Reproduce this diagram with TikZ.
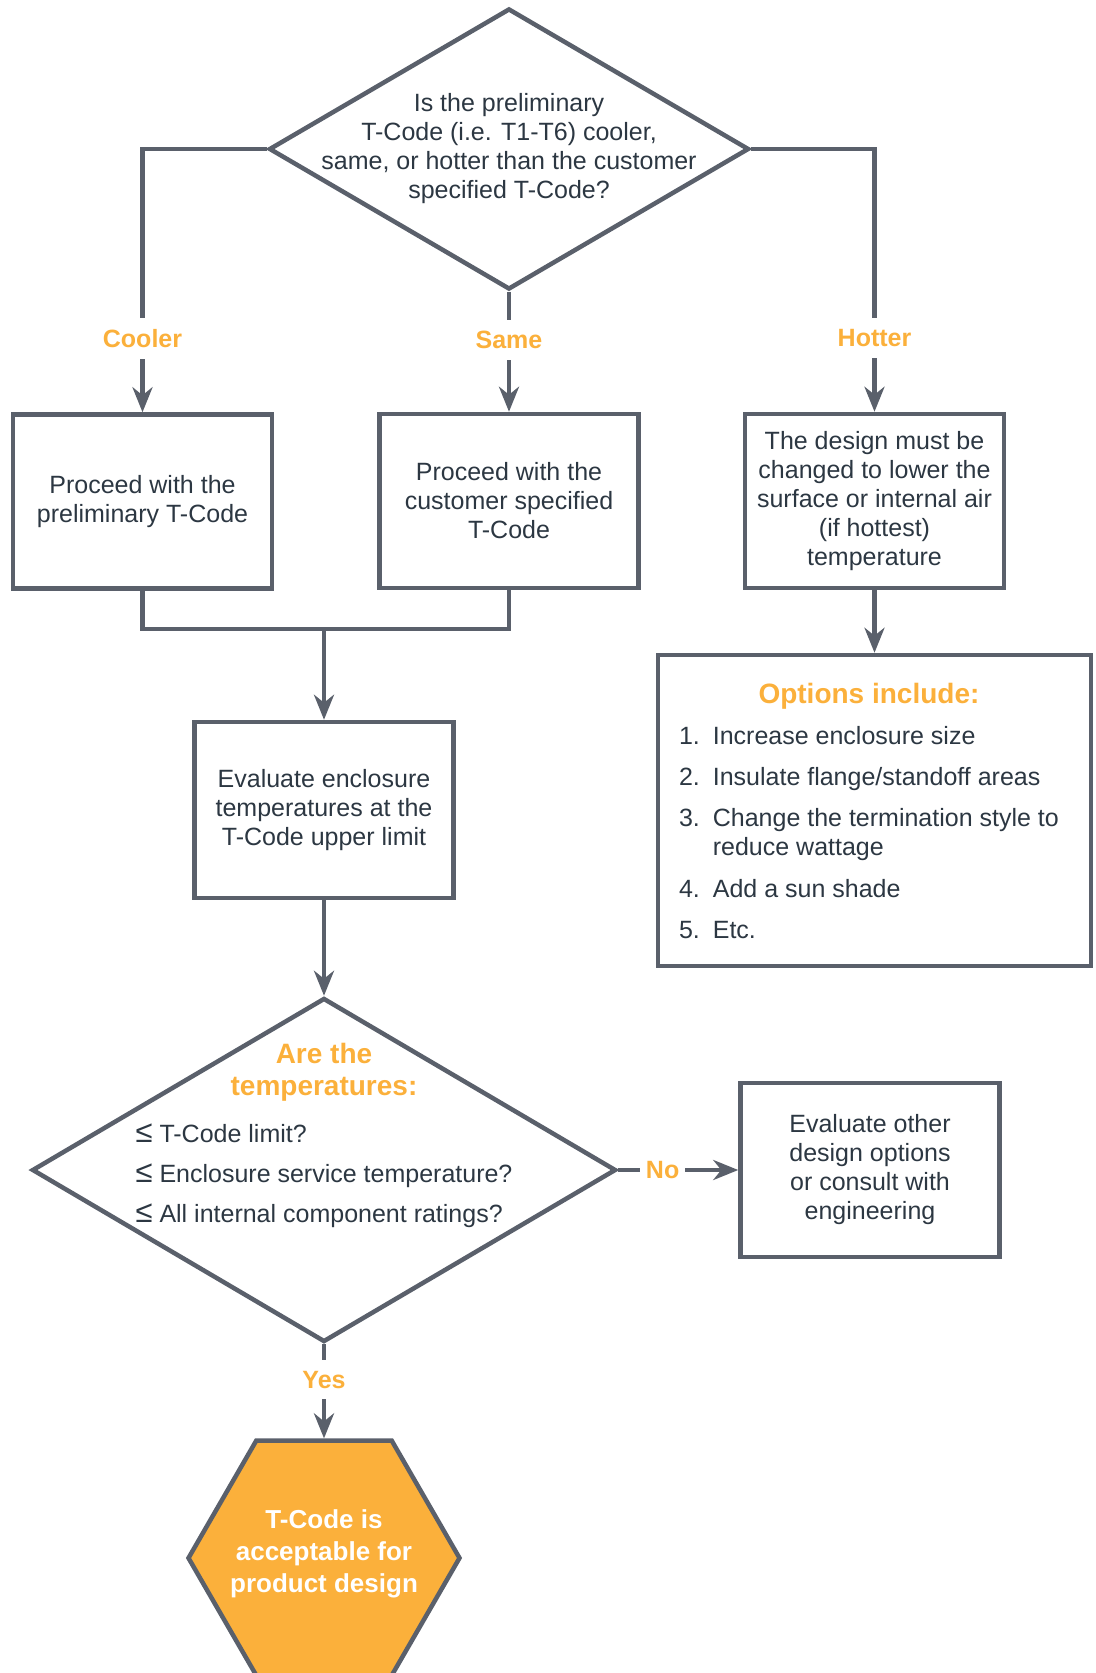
\documentclass[tikz,border=0pt]{standalone}
\usepackage{fontspec}
\setmainfont{Liberation Sans}
\usetikzlibrary{shapes.geometric,arrows.meta}
\definecolor{linegray}{RGB}{90,96,107}
\definecolor{ink}{RGB}{44,55,66}
\definecolor{tangerine}{RGB}{251,176,59}
\newcommand{\fnorm}{\fontsize{25}{29}\selectfont}
\newcommand{\fhead}{\fontsize{28}{32}\selectfont\bfseries}
\newcommand{\lte}{{\fontsize{31}{29}\selectfont ≤}}

\begin{document}
\begin{tikzpicture}[x=1pt,y=-1pt,line width=4.5pt]
        \tikzstyle{every node}=[text=ink, font=\fnorm]
        \tikzstyle{box}=[draw=linegray, rectangle, minimum width=259pt, minimum height=174pt, align=center, inner sep=0pt]
        \tikzstyle{decision}=[draw=linegray, diamond, inner sep=0pt]
        \tikzstyle{terminal}=[draw=linegray, fill=tangerine, regular polygon, regular polygon sides=6, minimum size=271pt, inner sep=0pt]
        \tikzstyle{branch}=[fill=white, text=tangerine, font=\fontsize{25}{29}\selectfont\bfseries, inner xsep=6pt, inner ysep=11pt]
        \tikzstyle{link}=[draw=linegray]
        \tikzstyle{arrow}=[link, -{Stealth[length=25pt, width=20pt, inset=8pt]}]
        \useasboundingbox (0,0) rectangle (1095,1673);
        \clip (0,0) rectangle (1095,1673);

        \node[decision, minimum width=480pt, minimum height=281pt] (tq) at (509,149) {};
        \node[align=center] (tqtxt) at (tq.center) {Is the preliminary\\T-Code (i.e. T1-T6) cooler,\\same, or hotter than the customer\\specified T-Code?};

        \node[box] (cool) at (142.5,501.5) {Proceed with the\\preliminary T-Code};
        \node[box] (same) at (509,501) {Proceed with the\\customer specified\\T-Code};
        \node[box] (hot) at (874.5,501) {The design must be\\changed to lower the\\surface or internal air\\(if hottest)\\temperature};

        \node[box, minimum height=176pt] (eval) at (324,810) {Evaluate enclosure\\temperatures at the\\T-Code upper limit};
        \node[box, minimum width=433pt, minimum height=311pt] (opts) at (874.5,810.5) {};
        \node[anchor=west, inner sep=0pt] (optlist) at ([xshift=21pt, yshift=-5pt]opts.west) {%
            \begin{tabular}{@{}l@{\hspace{13pt}}l@{}}
                \multicolumn{2}{c}{\color{tangerine}\fhead Options include:}\\[12pt]
                1. & Increase enclosure size\\[12pt]
                2. & Insulate flange/standoff areas\\[12pt]
                3. & Change the termination style to\\
                   & reduce wattage\\[13pt]
                4. & Add a sun shade\\[12pt]
                5. & Etc.
            \end{tabular}};

        \node[decision, minimum width=584pt, minimum height=344pt] (chk) at (324,1170) {};
        \node[inner sep=0pt] (chktxt) at ([yshift=32.5pt]chk.center) {%
            \begin{tabular}{@{}l@{}}
                \multicolumn{1}{@{}c@{}}{\color{tangerine}\fhead Are the}\\[3pt]
                \multicolumn{1}{@{}c@{}}{\color{tangerine}\fhead temperatures:}\\[18pt]
                \lte\ T-Code limit?\\[11pt]
                \lte\ Enclosure service temperature?\\[11pt]
                \lte\ All internal component ratings?
            \end{tabular}};
        \node[box] (alt) at (870,1170) {Evaluate other\\design options\\or consult with\\engineering};
        \node[terminal] (done) at (324,1558) {};
        \node[align=center, text=white, font=\fontsize{26}{32}\selectfont\bfseries] (donetxt) at ([yshift=4pt]done.center) {T-Code is\\acceptable for\\product design};

        \draw[arrow] (tq.west) -| node[branch, pos=0.86] {Cooler} (cool.north);
        \draw[arrow] (tq.south) -- node[branch, pos=0.4] {Same} (same.north);
        \draw[arrow] (tq.east) -| node[branch, pos=0.86] {Hotter} (hot.north);
        \coordinate (join) at (324,629);
        \draw[link] (cool.south) |- (join) -| (same.south);
        \draw[arrow] (join) -- (eval.north);
        \draw[arrow] (hot.south) -- (opts.north);
        \draw[arrow] (eval.south) -- (chk.north);
        \draw[arrow] (chk.east) -- node[branch, pos=0.37] {No} (alt.west);
        \draw[arrow] (chk.south) -- node[branch, pos=0.375] {Yes} (done.north);
\end{tikzpicture}
\end{document}
